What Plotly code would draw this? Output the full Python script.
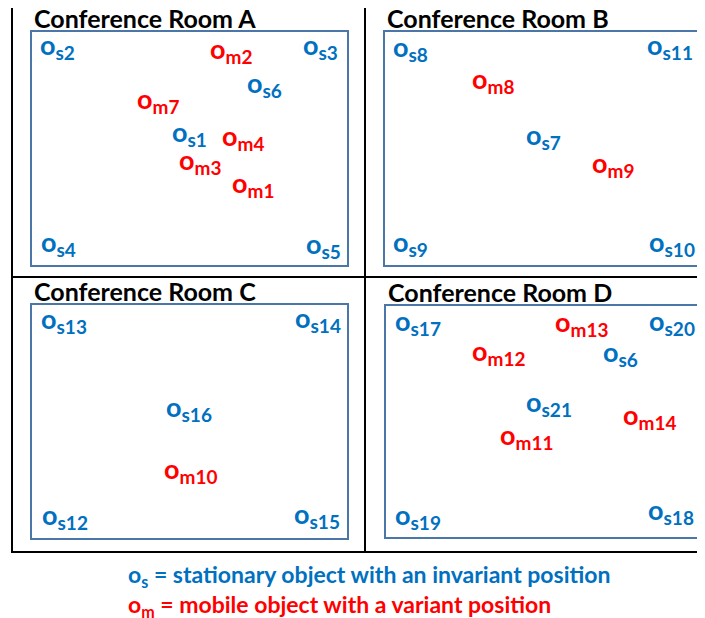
import plotly.graph_objects as go

# the page body has an 8px margin, so page pixels are shifted by this much
OFF = 8
W, H = 705 - OFF, 618 - OFF
BLUE = "#0070C0"
RED = "#FF0000"
FRAME = "#4A76A8"
FONT = "Lato"

# room rectangles in page pixels: left, top, right, bottom
rooms = ["A", "B", "C", "D"]
room_rects = {
    "A": (32, 32, 347, 265),
    "B": (385, 32, 700, 265),
    "C": (32, 305, 347, 538),
    "D": (386, 306, 700, 537),
}

# objects per room: label, x, y (pixels from the room's top-left corner)
room_a_labels = ["s2", "m2", "s3", "s6", "m7", "s1", "m4", "m3", "m1", "s4", "s5"]
room_a_x = [8, 178, 271, 215, 105, 140, 190, 147, 200, 9, 274]
room_a_y = [16, 20, 16, 54, 70, 103, 107, 131, 154, 213, 215]

room_b_labels = ["s8", "s11", "m8", "s7", "m9", "s9", "s10"]
room_b_x = [8, 262, 87, 141, 207, 8, 264]
room_b_y = [18, 16, 50, 106, 134, 213, 213]

room_c_labels = ["s13", "s14", "s16", "m10", "s12", "s15"]
room_c_x = [9, 263, 134, 132, 10, 262]
room_c_y = [17, 16, 105, 167, 213, 212]

room_d_labels = ["s17", "m13", "s20", "m12", "s6", "s21", "m14", "m11", "s19", "s18"]
room_d_x = [9, 169, 263, 86, 217, 140, 237, 114, 9, 262]
room_d_y = [18, 19, 18, 48, 49, 99, 112, 132, 212, 207]

room_data = {
    "A": (room_a_labels, room_a_x, room_a_y),
    "B": (room_b_labels, room_b_x, room_b_y),
    "C": (room_c_labels, room_c_x, room_c_y),
    "D": (room_d_labels, room_d_x, room_d_y),
}

legend_lines = [
    ("s", "= stationary object with an invariant position", BLUE),
    ("m", "= mobile object with a variant position", RED),
]


def px(x):
    return (x - OFF) / W


def py(y):
    return 1 - (y - OFF) / H


fig = go.Figure()
layout_axes = {}

for i, room in enumerate(rooms):
    left, top, right, bottom = room_rects[room]
    w, h = right - left, bottom - top
    n = "" if i == 0 else str(i + 1)
    xa, ya = "x" + n, "y" + n
    labels, xs, ys = room_data[room]

    for kind, color in (("s", BLUE), ("m", RED)):
        idx = [k for k, lab in enumerate(labels) if lab[0] == kind]
        fig.add_trace(go.Scatter(
            x=[xs[k] for k in idx],
            y=[ys[k] for k in idx],
            mode="text",
            text=["<b>o<sub><span style='font-size:19px'>" + labels[k] + "</span></sub></b>"
                  for k in idx],
            textposition="middle right",
            textfont=dict(family=FONT, size=27, color=color),
            cliponaxis=False,
            hoverinfo="skip",
            showlegend=False,
            xaxis=xa, yaxis=ya,
        ))

    axis_style = dict(showgrid=False, zeroline=False, showticklabels=False, ticks="",
                      showline=True, mirror=True, linecolor=FRAME, linewidth=2,
                      fixedrange=True)
    layout_axes["xaxis" + n] = dict(axis_style, domain=[px(left), px(right)], range=[0, w],
                                    anchor=ya)
    layout_axes["yaxis" + n] = dict(axis_style, domain=[py(bottom), py(top)],
                                    range=[h, 0], anchor=xa)

    # room title
    fig.add_annotation(
        x=px(left), y=py(top - 14), xref="paper", yref="paper",
        xanchor="left", yanchor="middle", showarrow=False,
        text="<b>Conference Room " + room + "</b>",
        font=dict(family=FONT, size=25, color="black"),
    )

# outer black frame and dividers
black = dict(color="black", width=2)
fig.add_shape(type="rect", xref="paper", yref="paper",
              x0=px(12), x1=1.01, y0=py(552), y1=py(5), line=black)
fig.add_shape(type="line", xref="paper", yref="paper",
              x0=px(365), x1=px(365), y0=py(552), y1=py(5), line=black)
fig.add_shape(type="line", xref="paper", yref="paper",
              x0=px(12), x1=1.01, y0=py(277), y1=py(277), line=black)

# legend text below the rooms
for j, (sub, desc, color) in enumerate(legend_lines):
    fig.add_annotation(
        x=px(126), y=py(575 + 30 * j), xref="paper", yref="paper",
        xanchor="left", yanchor="middle", showarrow=False,
        text="<b>o<sub>" + sub + "</sub> " + desc + "</b>",
        font=dict(family=FONT, size=23, color=color),
    )

fig.update_layout(
    width=W, height=H,
    margin=dict(l=0, r=0, t=0, b=0),
    paper_bgcolor="white", plot_bgcolor="white",
    **layout_axes,
)

fig.write_html("out.html")
